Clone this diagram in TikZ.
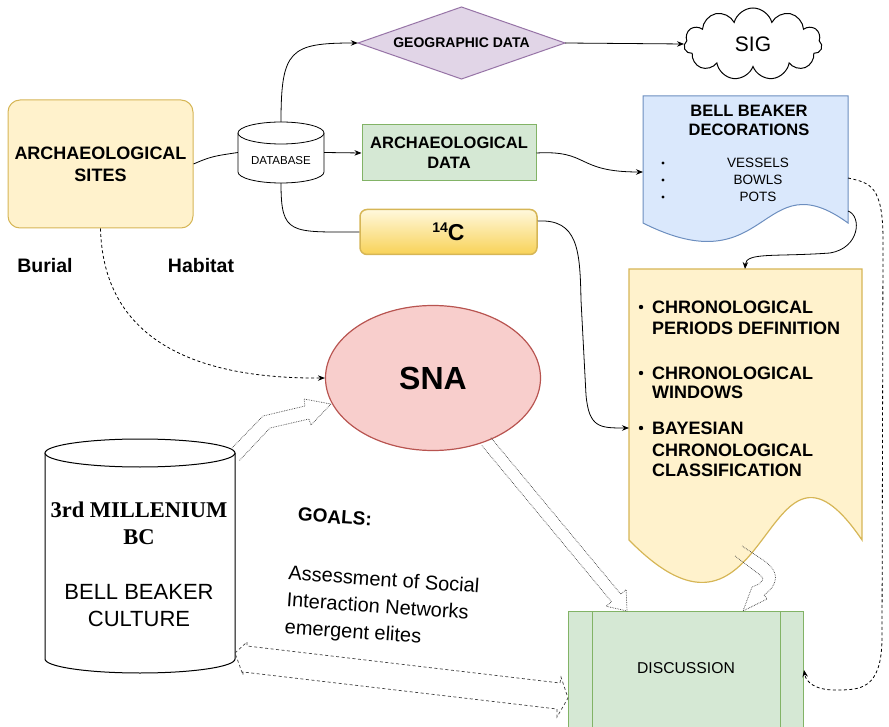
\documentclass[tikz,border=0pt]{standalone}
\usepackage{fontspec}
\setmainfont{Liberation Sans}
\newfontfamily\tnrfont{Liberation Serif}
\usetikzlibrary{shapes.symbols,shapes.geometric,arrows.meta,calc}
\definecolor{yfill}{HTML}{FFF2CC}
\definecolor{yline}{HTML}{D6B656}
\definecolor{gfill}{HTML}{D5E8D4}
\definecolor{gline}{HTML}{82B366}
\definecolor{bfill}{HTML}{DAE8FC}
\definecolor{bline}{HTML}{6C8EBF}
\definecolor{pfill}{HTML}{E1D5E7}
\definecolor{pline}{HTML}{9673A6}
\definecolor{rfill}{HTML}{F8CECC}
\definecolor{rline}{HTML}{B85450}
\definecolor{ctop}{HTML}{FFF8DC}
\definecolor{cbot}{HTML}{F8D257}
\newcommand\myflex[3][]{%
  \path (#2) coordinate (fa0) (#3) coordinate (fa1) ($(fa1)!17pt!(fa0)$) coordinate (fah);
  \draw[flex,#1] ($(fa0)!6pt!90:(fa1)$) -- ($(fah)!6pt!90:(fa1)$) -- ($(fah)!13pt!90:(fa1)$) -- (fa1)
     -- ($(fah)!13pt!-90:(fa1)$) -- ($(fah)!6pt!-90:(fa1)$) -- ($(fa0)!6pt!-90:(fa1)$);}
\begin{document}
\begin{tikzpicture}[x=1pt,y=-1pt,
  conn/.style={draw=black, line width=0.8pt},
  arr/.style={-{Stealth[length=7pt,width=5.5pt]}},
  dsh/.style={dash pattern=on 3pt off 2.5pt},
  flex/.style={draw=black!75, line width=0.7pt, densely dotted},
  chrontxt/.style={anchor=base west, inner sep=0pt, font=\fontsize{18}{21}\selectfont\bfseries},
]
\useasboundingbox (0,0) rectangle (889,727);

% archaeological sites
\node[draw=yline, fill=yfill, rounded corners=12pt, line width=1pt, minimum width=185pt, minimum height=128pt,
  font=\fontsize{18}{22}\selectfont\bfseries, align=center] (sites) at (100.5,164) {ARCHAEOLOGICAL\\SITES};
\node[font=\fontsize{19.5}{22}\selectfont\bfseries] (burial) at (45,266) {Burial};
\node[font=\fontsize{19.5}{22}\selectfont\bfseries] (habitat) at (201,266) {Habitat};

% database cylinder
\path[draw, fill=white, line width=0.8pt] (238,133) -- (238,172) arc[start angle=180,end angle=360,x radius=43pt,y radius=11pt] -- (324,133);
\draw[fill=white, line width=0.8pt] (281,133) ellipse [x radius=43pt, y radius=11pt];
\node[minimum width=86pt, minimum height=61pt] (db) at (281,152.5) {};
\node[font=\fontsize{11.5}{13}\selectfont] (dbtext) at (281,161) {DATABASE};

% geographic data
\filldraw[fill=pfill, draw=pline, line width=1pt] (358,43) -- (461.5,7) -- (565,43) -- (461.5,79) -- cycle;
\node[minimum width=207pt, minimum height=72pt, font=\fontsize{14}{16}\selectfont\bfseries] (geo) at (461.5,43) {GEOGRAPHIC DATA};

% SIG cloud
\node[cloud, cloud puffs=11, cloud ignores aspect, draw, line width=1pt, minimum width=138pt, minimum height=72pt,
  font=\fontsize{21}{24}\selectfont] (sig) at (753,44) {SIG};

% archaeological data
\node[draw=gline, fill=gfill, line width=1pt, minimum width=174pt, minimum height=56pt,
  font=\fontsize{16.5}{20}\selectfont\bfseries, align=center] (ad) at (449,153) {ARCHAEOLOGICAL\\DATA};

% 14C
\node[draw=yline, top color=ctop, bottom color=cbot, rounded corners=7pt, line width=1.5pt,
  minimum width=177pt, minimum height=45pt] (c14) at (448.5,232)
  {\bfseries{\fontsize{14}{14}\selectfont\raisebox{8pt}{14}}{\fontsize{23}{23}\selectfont C}};

% bell beaker decorations document
\filldraw[fill=bfill, draw=bline, line width=1pt] (643,96) -- (848,96) -- (848,223)
  .. controls (760,159) and (770,287) .. (643,223) -- cycle;
\coordinate (bbL) at (643,172);
\coordinate (bbR) at (848,211);
\coordinate (bbR2) at (848,178);
\node[font=\fontsize{16.5}{19}\selectfont\bfseries, align=center] (bbtitle) at (749,120) {BELL BEAKER\\DECORATIONS};
\node[font=\fontsize{13.5}{17}\selectfont, align=center] (bbitems) at (758,180) {VESSELS\\BOWLS\\POTS};
\fill (663,163) circle (1.7pt) (663,180) circle (1.7pt) (663,197) circle (1.7pt);

% chronological document
\filldraw[fill=yfill, draw=yline, line width=1.2pt] (629,269) -- (862,269) -- (862,540)
  .. controls (762,393) and (773,687) .. (629,540) -- cycle;
\coordinate (chronL) at (629,428);
\coordinate (chronT) at (745,269);
\coordinate (chronB) at (738,551);
\fill (641,307) circle (2.2pt) (641,373) circle (2.2pt) (641,428) circle (2.2pt);
\node[chrontxt] (ch1) at (652,313.5) {CHRONOLOGICAL};
\node[chrontxt] (ch2) at (652,334.5) {PERIODS DEFINITION};
\node[chrontxt] (ch3) at (652,379.5) {CHRONOLOGICAL};
\node[chrontxt] (ch4) at (652,398.5) {WINDOWS};
\node[chrontxt] (ch5) at (652,434.5) {BAYESIAN};
\node[chrontxt] (ch6) at (652,456.5) {CHRONOLOGICAL};
\node[chrontxt] (ch7) at (652,476.5) {CLASSIFICATION};

% SNA
\node[ellipse, draw=rline, fill=rfill, line width=1.2pt, minimum width=215pt, minimum height=145pt,
  font=\fontsize{32}{36}\selectfont\bfseries] (sna) at (433,378) {SNA};

% culture cylinder
\path[draw, fill=white, line width=1pt] (45,453) -- (45,659) arc[start angle=180,end angle=360,x radius=95pt,y radius=14pt] -- (235,453);
\draw[fill=white, line width=1pt] (140,453) ellipse [x radius=95pt, y radius=14pt];
\node[minimum width=190pt, minimum height=234pt] (cult) at (140,556) {};
\node[font=\tnrfont\bfseries\fontsize{22.5}{27}\selectfont, align=center] (mil) at (139,523) {3rd MILLENIUM\\BC};
\node[font=\fontsize{22}{27}\selectfont, align=center] (bbc) at (139,606) {BELL BEAKER\\CULTURE};

% goals
\node[rotate=-4, font=\fontsize{19}{22}\selectfont\bfseries] (goals) at (335,517) {GOALS:};
\node[rotate=-4, align=left, font=\fontsize{20}{27}\selectfont, anchor=north west, inner sep=0pt] (ass) at (289,565)
  {Assessment of Social\\Interaction Networks\\emergent elites};

% discussion
\node[draw=gline, fill=gfill, line width=1pt, minimum width=235pt, minimum height=117pt, anchor=north west] (disc) at (568,611) {};
\draw[gline, line width=1pt] (592,611) -- (592,729) (780,611) -- (780,729);
\node[font=\fontsize{15.7}{18}\selectfont] (disctext) at (686,668) {DISCUSSION};
\coordinate (discIn1) at (627,611);
\coordinate (discIn2) at (743,611);

% connectors
\draw[conn] (sites.east) .. controls (212,156) and (215,156) .. (db.west);
\draw[conn, arr] (db.north) .. controls (281,50) and (290,43) .. (geo.west);
\draw[conn, arr] (db.east) -- (ad.west);
\draw[conn] (db.south) .. controls (281,235) and (290,232) .. (c14.west);
\draw[conn, arr] (geo.east) -- (sig.west);
\draw[conn, arr] (ad.east) .. controls (590,150) and (575,172) .. (bbL);
\draw[conn, arr] ([yshift=11pt]c14.east) .. controls (578,219) and (580,250) .. (581,300) -- (586,395)
  .. controls (589,428) and (600,428) .. (chronL);
\draw[conn, arr] (bbR) .. controls (862,216) and (860,248) .. (830,253) .. controls (775,257) and (746,252) .. (chronT);

% dashed connectors
\draw[conn, dsh, arr] (sites.south) .. controls (103,330) and (180,379) .. (sna.west);
\draw[conn, dsh, arr] (bbR2) .. controls (870,183) and (883,185) .. (883,240) -- (882,640)
  .. controls (881,690) and (860,690) .. (835,690) .. controls (815,690) and (806,682) .. (disc.east);

% flex arrows
\myflex{sna.-50}{discIn1}
\draw[flex] (232,448) -- (263,416) -- (305,406) -- (304,399) -- (331,404) -- (311,425) -- (309,419) -- (270,428) -- (239,461);
\draw[flex] (735,556) -- (760,575) .. controls (764,579) .. (759,584) -- (752,587) -- (743,611) -- (767,599) -- (764,595)
  .. controls (778,585) and (781,572) .. (763,560) -- (742,546);
\draw[flex, solid, dsh] (235,653) -- (247,642) -- (247,646) -- (560,683) -- (561,677) -- (568,698) -- (557,717) -- (557,709) -- (243,672) -- (243,675) -- cycle;
\end{tikzpicture}
\end{document}
